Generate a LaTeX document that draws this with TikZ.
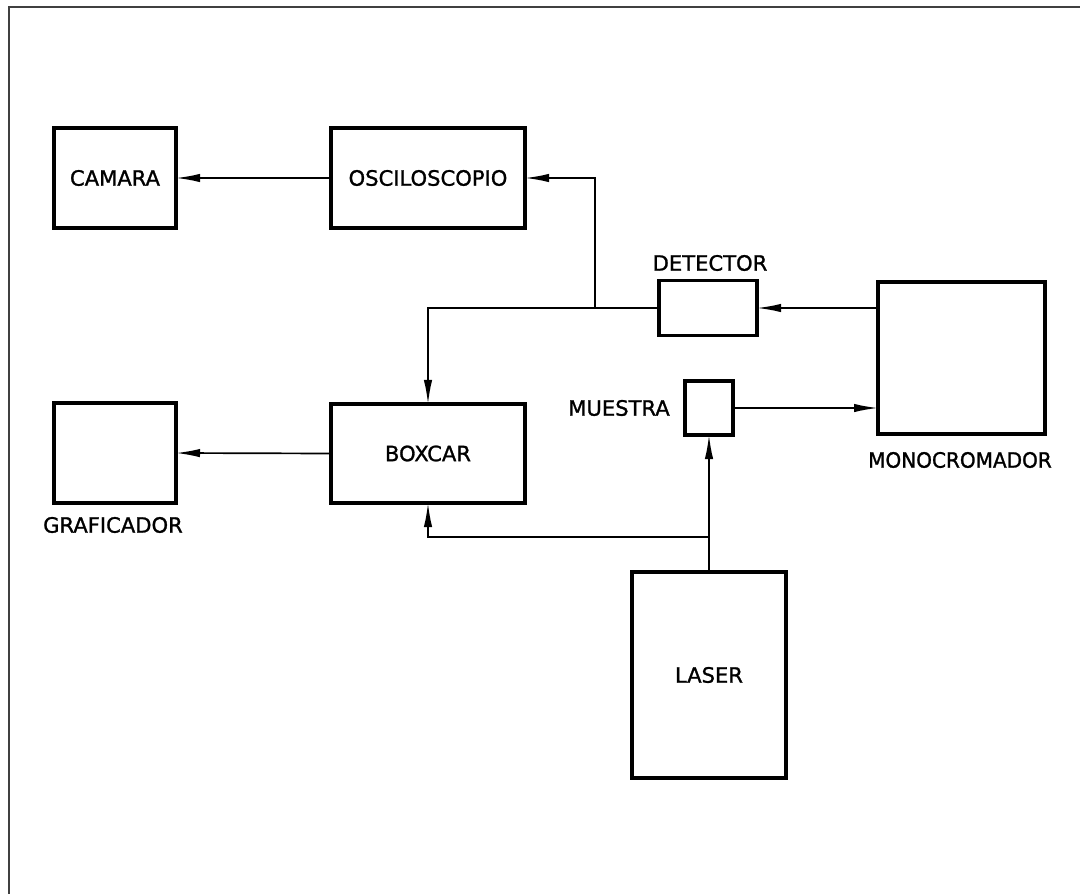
\documentclass[tikz,border=0pt]{standalone}
\usepackage{fontspec}
\setmainfont{DejaVu Sans}
\newfontfamily\lblfont[FakeBold=1.2]{DejaVu Sans}
\usetikzlibrary{arrows.meta}

\tikzset{
  box/.style={draw, line width=2.4pt, inner sep=0pt, outer sep=0pt},
  lbl/.style={inner sep=0pt, font=\lblfont\fontsize{15}{17}\selectfont},
  conn/.style={line width=1.2pt},
  arr/.style={conn, -{Latex[length=0.6cm, width=0.21cm]}},
}

\begin{document}
\begin{tikzpicture}[x=0.025cm, y=-0.025cm]
\useasboundingbox (0,0) rectangle (1080,894);
\draw[line width=1.3pt, black!75] (9,894) -- (9,7) -- (1080,7);
\node[box, minimum width=122*0.025cm, minimum height=100*0.025cm, lbl] (camara) at (115,178) {CAMARA};
\node[box, minimum width=194*0.025cm, minimum height=100*0.025cm, lbl] (osc) at (428,178) {OSCILOSCOPIO};
\node[box, minimum width=98*0.025cm, minimum height=55*0.025cm] (det) at (708,308) {};
\node[lbl] (detlbl) at (710,263) {DETECTOR};
\node[box, minimum width=167*0.025cm, minimum height=152*0.025cm] (mono) at (961.5,358) {};
\node[lbl, xscale=0.95] (monolbl) at (960,460) {MONOCROMADOR};
\node[box, minimum width=48*0.025cm, minimum height=54*0.025cm] (muestra) at (709,408) {};
\node[lbl] (muestralbl) at (619,408) {MUESTRA};
\node[box, minimum width=194*0.025cm, minimum height=99*0.025cm, lbl] (boxcar) at (428,453.5) {BOXCAR};
\node[box, minimum width=122*0.025cm, minimum height=100*0.025cm] (graf) at (115,453) {};
\node[lbl] (graflbl) at (113,525) {GRAFICADOR};
\node[box, minimum width=154*0.025cm, minimum height=206*0.025cm, lbl] (laser) at (709,675) {LASER};
\coordinate (j1) at (595,308);
\coordinate (j2) at (709,537);
\draw[arr] (osc.west) -- (camara.east);
\draw[arr] (det.east -| mono.west) -- (det.east);
\draw[arr] (det.west) -| (boxcar.north);
\draw[arr] (j1) |- (osc.east);
\draw[arr] (muestra.east) -- (muestra.east -| mono.west);
\draw[arr] (boxcar.west) -- (graf.east);
\draw[arr] (laser.north) -- (muestra.south);
\draw[arr] (j2) -| (boxcar.south);
\end{tikzpicture}
\end{document}
